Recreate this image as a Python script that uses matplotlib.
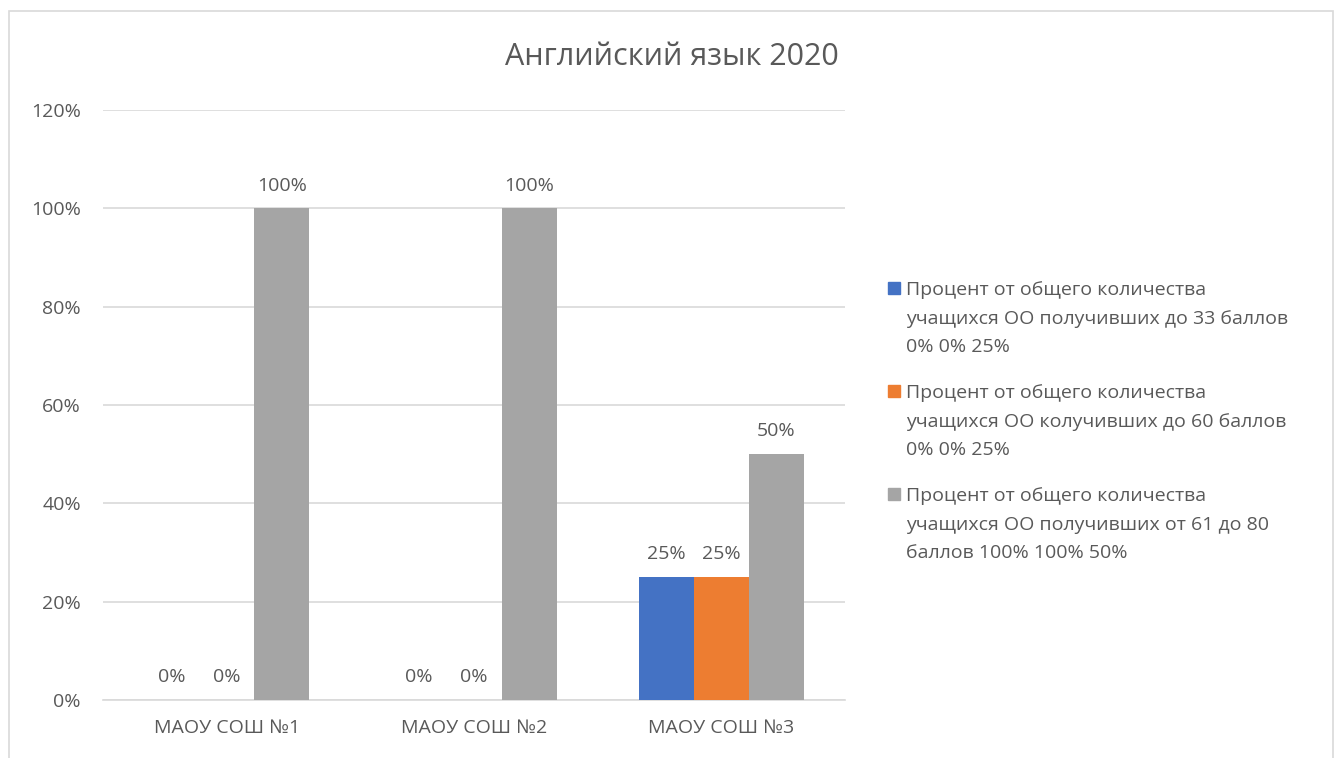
import numpy as np
import matplotlib.pyplot as plt
from matplotlib.patches import Rectangle

plt.rcParams['font.family'] = ['Open Sans', 'DejaVu Sans']

schools = ['МАОУ СОШ №1', 'МАОУ СОШ №2', 'МАОУ СОШ №3']
series_names = [
    'Процент от общего количества\nучащихся ОО получивших до 33 баллов\n0% 0% 25%',
    'Процент от общего количества\nучащихся ОО колучивших до 60 баллов\n0% 0% 25%',
    'Процент от общего количества\nучащихся ОО получивших от 61 до 80\nбаллов 100% 100% 50%',
]
upto33 = [0, 0, 25]
upto60 = [0, 0, 25]
from61to80 = [100, 100, 50]
colors = ['#4472C4', '#ED7D31', '#A5A5A5']
text_color = '#595959'
grid_color = '#D9D9D9'
fs = 14

fig = plt.figure(figsize=(13.35, 7.58), dpi=100)
ax = fig.add_axes([0.0772, 0.0765, 0.5558, 0.7784])

x = np.arange(len(schools))
w = 0.223
for i, (vals, c) in enumerate(zip([upto33, upto60, from61to80], colors)):
    pos = x + (i - 1) * w
    ax.bar(pos, vals, width=w, color=c, zorder=3)
    for p, v in zip(pos, vals):
        ax.text(p, v + 2.8, f'{v}%', ha='center', va='bottom',
                fontsize=fs, color=text_color)

ax.set_xlim(-0.5, 2.5)
ax.set_ylim(0, 120)
ax.set_yticks(range(0, 121, 20))
ax.set_yticklabels([f'{t}%' for t in range(0, 121, 20)])
ax.set_xticks(x)
ax.set_xticklabels(schools)
ax.tick_params(length=0, labelsize=fs, labelcolor=text_color)
ax.tick_params(axis='y', pad=16)
ax.tick_params(axis='x', pad=14)
ax.grid(axis='y', color=grid_color, linewidth=1.2, zorder=0)
for s in ['top', 'right', 'left']:
    ax.spines[s].set_visible(False)
ax.spines['bottom'].set_color(grid_color)
ax.spines['bottom'].set_linewidth(1.2)

fig.text(0.503, 1 - 57 / 758, 'Английский язык 2020', ha='center', va='center',
         fontsize=22, color=text_color)

# legend
y0 = 1 - 288 / 758
for i, (name, c) in enumerate(zip(series_names, colors)):
    yy = y0 - i * 103 / 758
    fig.patches.append(Rectangle((888 / 1335, yy - 6 / 758), 12 / 1335, 12 / 758,
                                 transform=fig.transFigure, color=c))
    fig.text(906 / 1335, yy + 7 / 758, name, ha='left', va='top',
             fontsize=fs, color=text_color, linespacing=1.76)

# outer frame
fig.patches.append(Rectangle((9 / 1335, -0.01), 1324 / 1335, 1 - 11 / 758 + 0.01,
                             transform=fig.transFigure, fill=False,
                             edgecolor=grid_color, linewidth=1.2))

fig.savefig('out.png', dpi=100)
